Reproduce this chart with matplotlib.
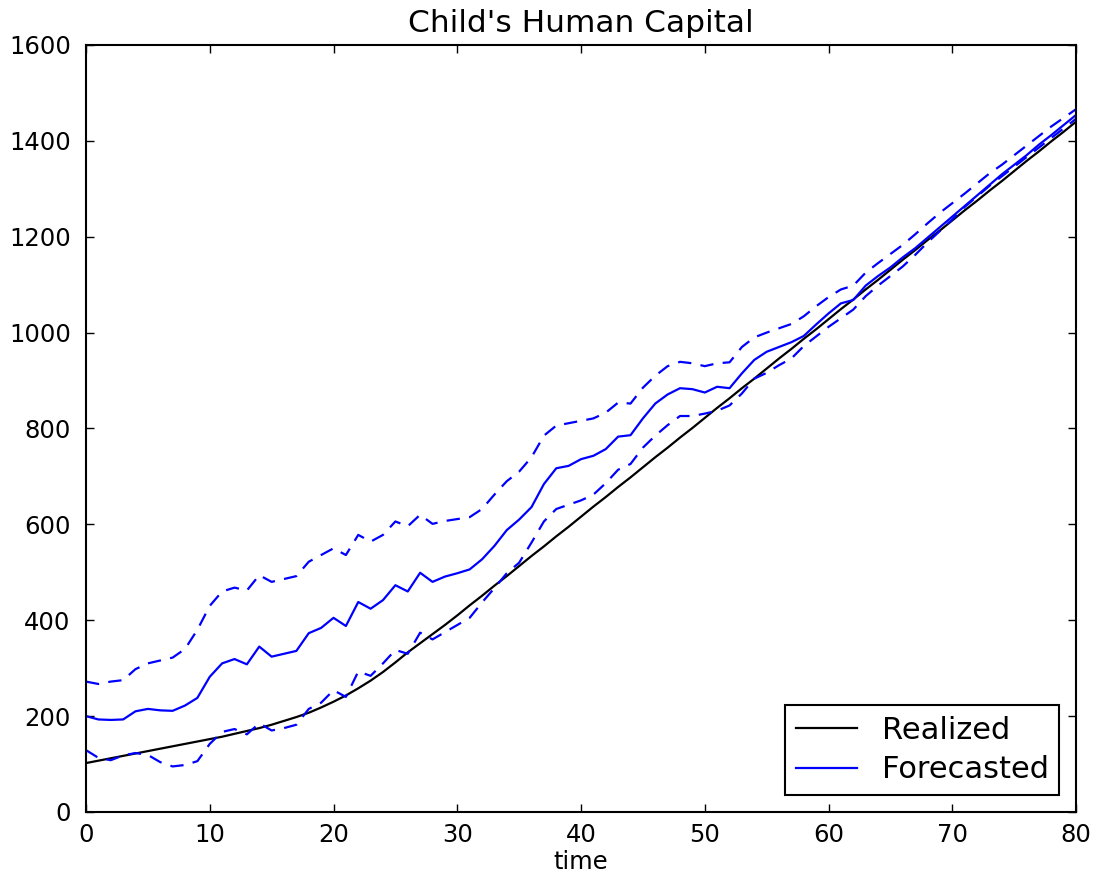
import numpy as np
import matplotlib
matplotlib.use('Agg')
import matplotlib.pyplot as plt

# time axis
time = np.arange(0, 81)

# realized human capital (black)
realized = [102, 107, 112, 117, 122, 127, 132, 137, 142, 147,
            152, 157, 163, 169, 175, 182, 190, 198, 207, 218,
            230, 243, 258, 274, 292, 312, 333, 352, 371, 390,
            410, 431, 451, 472, 492, 513, 534, 554, 575, 595,
            616, 637, 657, 678, 698, 719, 740, 760, 781, 801,
            822, 843, 863, 884, 904, 925, 946, 966, 987, 1007,
            1028, 1049, 1069, 1090, 1110, 1131, 1152, 1172, 1193, 1213,
            1234, 1255, 1275, 1296, 1316, 1337, 1358, 1378, 1399, 1419,
            1440]

# forecast mean (solid blue)
forecast = [200, 193, 192, 193, 210, 215, 212, 211, 222, 238,
            282, 310, 319, 308, 345, 324, 330, 336, 373, 384,
            405, 388, 438, 424, 442, 473, 460, 499, 480, 491,
            498, 506, 527, 555, 588, 610, 636, 684, 717, 722,
            736, 743, 757, 783, 786, 821, 852, 871, 884, 882,
            875, 887, 884, 915, 943, 960, 970, 980, 993, 1017,
            1040, 1061, 1068, 1098, 1118, 1136, 1157, 1176, 1198, 1220,
            1242, 1264, 1286, 1308, 1330, 1350, 1370, 1392, 1412, 1433,
            1454]

# upper band (dashed blue)
upper = [272, 267, 272, 275, 298, 310, 316, 322, 340, 380,
         430, 460, 468, 462, 494, 480, 486, 492, 522, 536,
         550, 536, 578, 564, 578, 606, 596, 620, 601, 607,
         611, 615, 632, 662, 690, 710, 740, 785, 806, 811,
         816, 821, 833, 854, 852, 885, 910, 930, 939, 936,
         930, 936, 938, 970, 990, 1000, 1009, 1018, 1034, 1055,
         1074, 1090, 1098, 1125, 1145, 1164, 1183, 1205, 1228, 1250,
         1270, 1290, 1311, 1332, 1350, 1370, 1390, 1410, 1430, 1448,
         1466]

# lower band (dashed blue)
lower = [129, 113, 108, 118, 123, 119, 104, 95, 98, 106,
         142, 167, 173, 162, 185, 170, 175, 182, 215, 228,
         254, 240, 293, 284, 310, 338, 330, 374, 360, 375,
         390, 405, 437, 467, 498, 520, 562, 606, 632, 641,
         650, 662, 686, 714, 726, 760, 785, 807, 826, 826,
         831, 837, 848, 873, 904, 916, 932, 946, 972, 992,
         1012, 1030, 1048, 1076, 1098, 1118, 1138, 1162, 1188, 1212,
         1236, 1262, 1284, 1306, 1326, 1346, 1366, 1386, 1406, 1426,
         1446]

plt.rcParams['font.family'] = ['DejaVu Sans']

fig = plt.figure(figsize=(10.94, 8.8), dpi=100, facecolor='white')
ax = fig.add_axes([0.0786, 0.0773, 0.905, 0.8716])

ax.plot(time, realized, color='k', lw=1.6, label='Realized')
ax.plot(time, forecast, color='b', lw=1.6, label='Forecasted')
ax.plot(time, upper, color='b', lw=1.6, ls='--', dashes=(6, 4.2))
ax.plot(time, lower, color='b', lw=1.6, ls='--', dashes=(6, 4.2))

ax.set_xlim(0, 80)
ax.set_ylim(0, 1600)
ax.set_xticks(np.arange(0, 81, 10))
ax.set_yticks(np.arange(0, 1601, 200))
ax.tick_params(direction='in', top=True, right=True, length=6, width=1,
               labelsize=17.5)
ax.tick_params(axis='y', pad=11)
ax.tick_params(axis='x', pad=8)
for sp in ax.spines.values():
    sp.set_linewidth(1.5)

ax.set_title("Child's Human Capital", fontsize=22.5, pad=9)
ax.set_xlabel('time', fontsize=17.5, labelpad=2)

leg = ax.legend(loc='lower right', fontsize=22, fancybox=False,
                framealpha=1, edgecolor='k', handlelength=2.0,
                borderaxespad=0.55, borderpad=0.35, labelspacing=0.35)
leg.get_frame().set_linewidth(1.5)

fig.savefig('out.png', dpi=100, facecolor='white')
